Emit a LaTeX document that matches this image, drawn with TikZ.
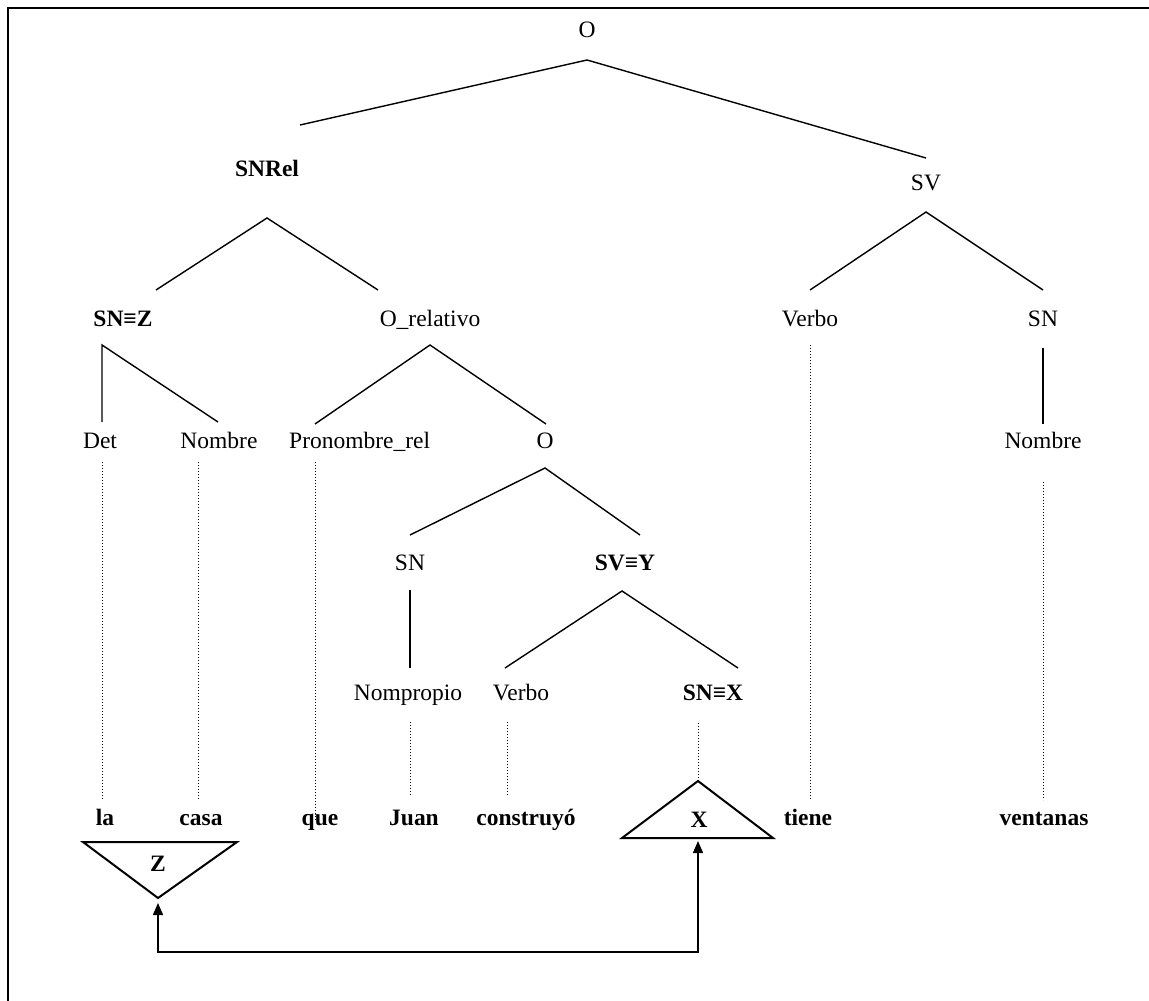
\documentclass[tikz,border=0pt]{standalone}
\usepackage{fontspec}
\setmainfont{Liberation Serif}
\usetikzlibrary{arrows.meta}
\begin{document}
\begin{tikzpicture}[x=1pt,y=-1pt,
  lbl/.style={anchor=base,inner sep=0pt,font=\fontsize{23.5}{28}\selectfont},
  blbl/.style={lbl,font=\fontsize{23.5}{28}\selectfont\bfseries},
  branch/.style={line width=1.4pt},
  dots/.style={dotted,line width=1pt},
  tri/.style={line width=2pt,line join=miter},
  link/.style={line width=1.5pt,{Triangle[length=12pt,width=10pt]}-{Triangle[length=12pt,width=10pt]}},
  frame/.style={line width=2.5pt}]
\useasboundingbox (0,0) rectangle (1149,1001);
% frame (top and left edges only)
\coordinate (fr-tr) at (1149,8);
\coordinate (fr-tl) at (8,8);
\coordinate (fr-bl) at (8,1001);
\draw[frame] (fr-tr) -- (fr-tl) -- (fr-bl);

% nodes
\node[lbl]  (O)     at (587,37)  {O};
\node[blbl] (SNRel) at (267,176) {SNRel};
\node[lbl]  (SV)    at (926,190) {SV};
\node[blbl] (SNZ)   at (123,326) {SN≡Z};
\node[lbl]  (Orel)  at (430,326) {O\_relativo};
\node[lbl]  (VerbR) at (810,326) {Verbo};
\node[lbl]  (SNR)   at (1043,326) {SN};
\node[lbl]  (Det)   at (100,448) {Det};
\node[lbl]  (Nom)   at (219,448) {Nombre};
\node[lbl,anchor=base west] (Pron) at (289,448) {Pronombre\_rel};
\node[lbl]  (Osub)  at (545,448) {O};
\node[lbl]  (NomR)  at (1043,448) {Nombre};
\node[lbl]  (SNm)   at (410,570) {SN};
\node[blbl] (SVY)   at (625,570) {SV≡Y};
\node[lbl]  (Nomp)  at (408,700) {Nompropio};
\node[lbl]  (VerbM) at (521,700) {Verbo};
\node[blbl] (SNX)   at (713,700) {SN≡X};
\node[blbl] (la)    at (105,825) {la};
\node[blbl] (casa)  at (201,825) {casa};
\node[blbl] (que)   at (320,825) {que};
\node[blbl] (Juan)  at (414,825) {Juan};
\node[blbl] (cons)  at (526,825) {construyó};
\node[blbl] (tiene) at (808,825) {tiene};
\node[blbl] (vent)  at (1044,825) {ventanas};

% branch end points
\coordinate (O-b) at (587,60);
\coordinate (SNRel-t) at (300,125);
\coordinate (SV-t) at (926,158);
\coordinate (SNRel-b) at (267,218);
\coordinate (SNZ-t) at (156,290);
\coordinate (Orel-t) at (378,290);
\coordinate (SV-b) at (926,212);
\coordinate (VerbR-t) at (810,290);
\coordinate (SNR-t) at (1043,290);
\coordinate (SNZ-b) at (102,345);
\coordinate (Det-t) at (102,422);
\coordinate (Nom-t) at (218,422);
\coordinate (Orel-b) at (430,345);
\coordinate (Pron-t) at (315,424);
\coordinate (Osub-t) at (546,424);
\coordinate (SNR-b) at (1043,348);
\coordinate (NomR-t) at (1043,424);
\coordinate (Osub-b) at (545,468);
\coordinate (SNm-t) at (410,535);
\coordinate (SVY-t) at (640,535);
\coordinate (SNm-b) at (410,590);
\coordinate (Nomp-t) at (410,668);
\coordinate (SVY-b) at (622,591);
\coordinate (VerbM-t) at (505,668);
\coordinate (SNX-t) at (738,668);

\draw[branch] (SNRel-t) -- (O-b) -- (SV-t);
\draw[branch] (SNZ-t) -- (SNRel-b) -- (Orel-t);
\draw[branch] (VerbR-t) -- (SV-b) -- (SNR-t);
\draw[branch] (Det-t) -- (SNZ-b) -- (Nom-t);
\draw[branch] (Pron-t) -- (Orel-b) -- (Osub-t);
\draw[branch] (SNR-b) -- (NomR-t);
\draw[branch] (SNm-t) -- (Osub-b) -- (SVY-t);
\draw[branch] (SNm-b) -- (Nomp-t);
\draw[branch] (VerbM-t) -- (SVY-b) -- (SNX-t);

% dotted lexical links
\coordinate (Det-b) at (102,462);  \coordinate (la-t) at (102,800);
\coordinate (Nom-b) at (198,462);  \coordinate (casa-t) at (198,800);
\coordinate (Pron-b) at (315,462); \coordinate (que-t) at (315,820);
\coordinate (VerbR-b) at (810,345); \coordinate (tiene-t) at (810,800);
\coordinate (NomR-b) at (1043,482); \coordinate (vent-t) at (1043,800);
\coordinate (Nomp-b) at (410,722); \coordinate (Juan-t) at (410,795);
\coordinate (VerbM-b) at (507,722); \coordinate (cons-t) at (507,795);
\coordinate (SNX-b) at (698,723);
\draw[dots] (Det-b) -- (la-t);
\draw[dots] (Nom-b) -- (casa-t);
\draw[dots] (Pron-b) -- (que-t);
\draw[dots] (VerbR-b) -- (tiene-t);
\draw[dots] (NomR-b) -- (vent-t);
\draw[dots] (Nomp-b) -- (Juan-t);
\draw[dots] (VerbM-b) -- (cons-t);

% triangles
\coordinate (Ztl) at (83,842);
\coordinate (Ztr) at (237,842);
\coordinate (Zap) at (158,898);
\draw[tri] (Ztl) -- (Ztr) -- (Zap) -- cycle;
\node[blbl] (Z) at (158,871) {Z};
\coordinate (Xap) at (698,781);
\coordinate (Xbl) at (622,838);
\coordinate (Xbr) at (773,838);
\draw[tri] (Xap) -- (Xbr) -- (Xbl) -- cycle;
\node[blbl] (X) at (699,827) {X};
\draw[dots] (SNX-b) -- (Xap);

% link arrow
\coordinate (Zarr) at (158,903);
\coordinate (Xarr) at (698,841);
\coordinate (corner-l) at (158,952);
\coordinate (corner-r) at (698,952);
\draw[link] (Zarr) -- (corner-l) -- (corner-r) -- (Xarr);
\end{tikzpicture}
\end{document}
